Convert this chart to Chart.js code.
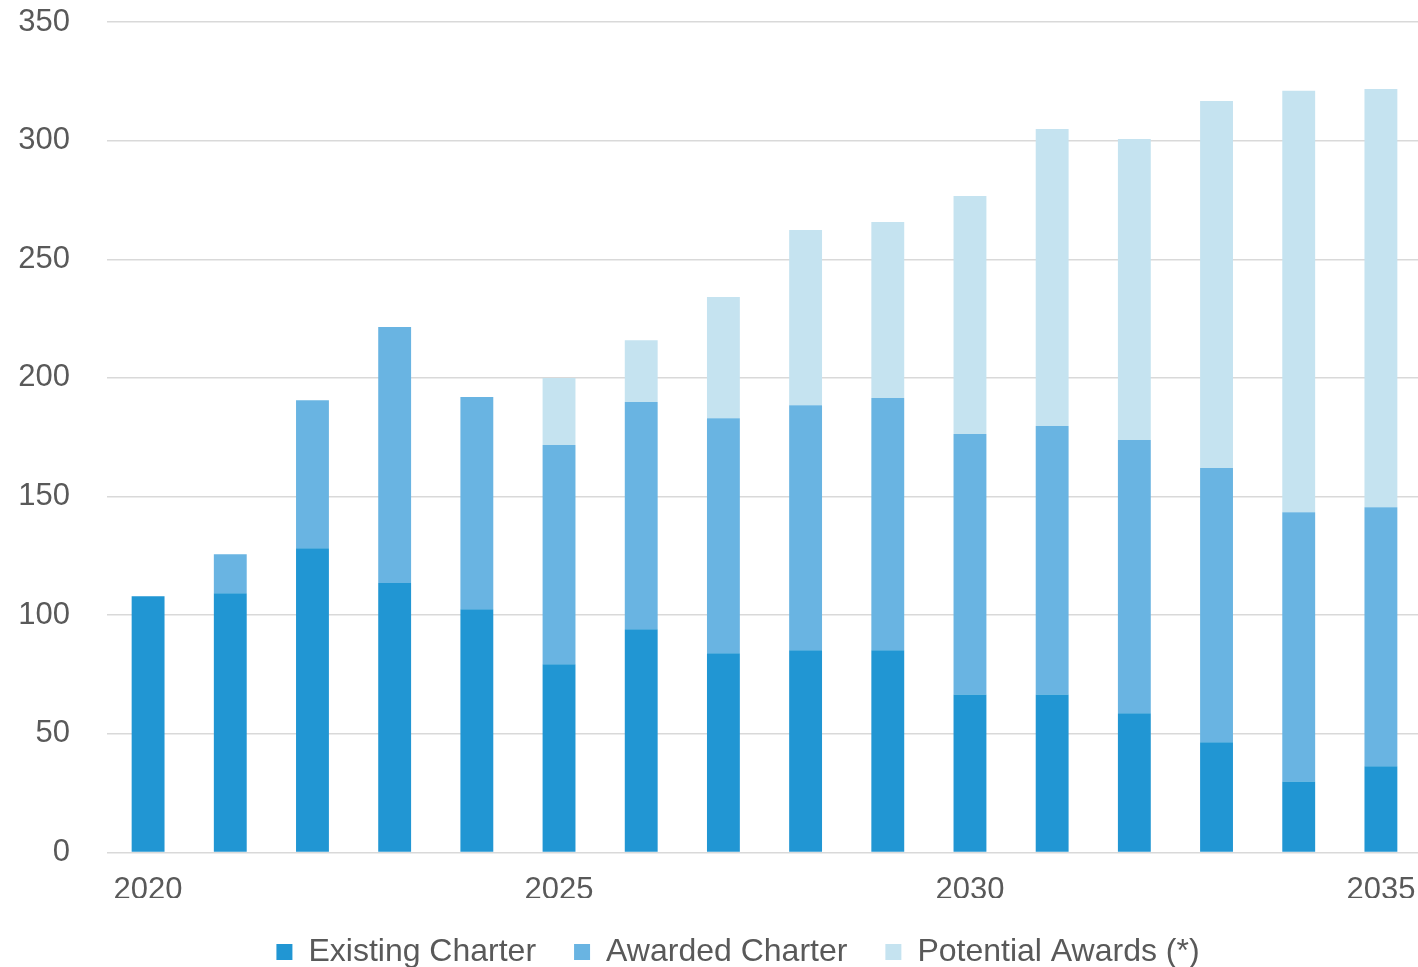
<!DOCTYPE html>
<html>
<head>
<meta charset="utf-8">
<script src="https://cdn.jsdelivr.net/npm/chart.js@4"></script>
<style>
html,body{margin:0;padding:0;background:#fff;overflow:hidden;}
#wrap{width:1418px;height:967px;overflow:hidden;position:relative;}
canvas{display:block;}
</style>
</head>
<body>
<div id="wrap"><canvas id="c" width="1422" height="978"></canvas></div>
<script>
const years = ['2020','2021','2022','2023','2024','2025','2026','2027','2028','2029','2030','2031','2032','2033','2034','2035'];
const existingCharter = [108, 109.2, 128.2, 113.5, 102.5, 79.3, 94.1, 83.9, 85.2, 85.2, 66.6, 66.6, 58.6, 46.4, 29.9, 36.3];
const awardedCharter  = [-0.5, 16.5, 62.4, 108, 89.4, 92.4, 95.7, 99.1, 103.3, 106.3, 109.7, 113.1, 115.2, 115.6, 113.5, 109.2];
const potentialAwards = [0, 0, 0, 0, 0, 28.2, 26.1, 51.1, 73.8, 74.2, 100.4, 125.2, 126.9, 154.7, 177.6, 176.3];
const yTicks = [0, 50, 100, 150, 200, 250, 300, 350];

const textColor = '#595959';
const fontFamily = '"Liberation Sans", Arial, sans-serif';

const shiftLegend = {
  id: 'shiftLegend',
  afterLayout(chart) { if (chart.legend) { chart.legend.left += 54; } }
};

new Chart(document.getElementById('c'), {
  type: 'bar',
  data: {
    labels: years,
    datasets: [
      {label: 'Existing Charter', data: existingCharter, backgroundColor: '#2196D3'},
      {label: 'Awarded Charter', data: awardedCharter, backgroundColor: '#69B4E2'},
      {label: 'Potential Awards (*)', data: potentialAwards, backgroundColor: '#C5E3F0'}
    ]
  },
  plugins: [shiftLegend],
  options: {
    responsive: false,
    maintainAspectRatio: false,
    animation: false,
    datasets: {bar: {barPercentage: 0.8, categoryPercentage: 0.5, borderWidth: 0}},
    layout: {padding: {top: 22, right: 0, left: 0, bottom: 0}},
    plugins: {
      tooltip: {enabled: false},
      legend: {
        position: 'bottom',
        labels: {
          boxWidth: 16, boxHeight: 16, padding: 38,
          color: textColor,
          font: {family: fontFamily, size: 32}
        }
      }
    },
    scales: {
      x: {
        stacked: true,
        afterFit: function(s) { s.height = 45.6; },
        grid: {display: true, drawOnChartArea: false, drawTicks: true, tickLength: 19, color: 'rgba(0,0,0,0)', tickColor: 'rgba(0,0,0,0)'},
        border: {display: false},
        ticks: {
          autoSkip: false, maxRotation: 0, padding: 0,
          color: textColor, font: {family: fontFamily, size: 31},
          callback: function(v, i) { return i % 5 === 0 ? years[i] : ''; }
        }
      },
      y: {
        stacked: true,
        min: 0, max: 350,
        afterFit: function(s) { s.width = 107; },
        afterBuildTicks: function(s) { s.ticks = yTicks.map(v => ({value: v})); },
        grid: {color: '#D9D9D9', lineWidth: 1.5, drawTicks: true, tickLength: 37, tickColor: 'rgba(0,0,0,0)'},
        border: {display: false},
        ticks: {
          padding: 0,
          color: textColor, font: {family: fontFamily, size: 31}
        }
      }
    }
  }
});
</script>
</body>
</html>
